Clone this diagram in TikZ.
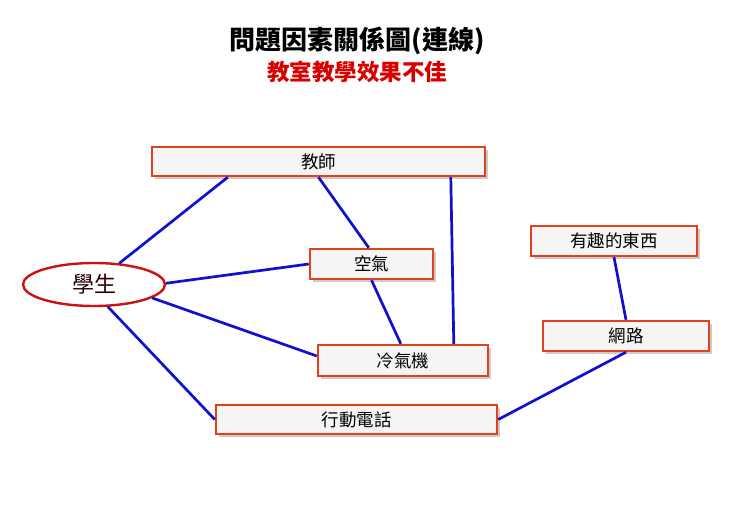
\documentclass[tikz,border=0pt]{standalone}
\usepackage{xcolor}
\usepackage{fontspec}
\usetikzlibrary{shapes.geometric,shadows}
\newfontfamily\cjk{Noto Sans CJK TC}
\definecolor{boxred}{HTML}{E2421B}
\definecolor{ovalred}{HTML}{CC1111}
\definecolor{linkblue}{HTML}{1010D0}
\definecolor{boxfill}{HTML}{F5F5F5}

\begin{document}
\begin{tikzpicture}[x=1pt,y=-1pt,
    factor/.style={draw=boxred,line width=2.4pt,fill=boxfill,
        drop shadow={shadow xshift=2.5pt,shadow yshift=-2.5pt,opacity=0.4},
        inner sep=0pt,font=\cjk\fontsize{17.5}{17.5}\selectfont},
    link/.style={draw=linkblue,line width=2.7pt}]
\useasboundingbox (0,0) rectangle (740,512);
    % Title
    \node (title) at (357,41) {\cjk\bfseries\fontsize{26}{26}\selectfont 問題因素關係圖(連線)};
    \node[text=red!85!black] (subtitle) at (357,72) {\cjk\bfseries\fontsize{22.5}{22.5}\selectfont 教室教學效果不佳};
    % Factors
    \node[ellipse,draw=ovalred,line width=2.4pt,fill=white,minimum width=142,minimum height=43,
        font=\cjk\fontsize{22}{22}\selectfont,text=black!85!red] (student) at (94,284.5) {學生};
    \node[factor,minimum width=333,minimum height=29] (teacher) at (318.5,161.5) {教師};
    \node[factor,minimum width=123,minimum height=30] (air) at (371.5,264) {空氣};
    \node[factor,minimum width=170,minimum height=31] (aircon) at (403,360.5) {冷氣機};
    \node[factor,minimum width=281,minimum height=29] (phone) at (356.5,419.5) {行動電話};
    \node[factor,minimum width=166,minimum height=30] (fun) at (614,241) {有趣的東西};
    \node[factor,minimum width=166,minimum height=30] (net) at (626,336) {網路};
    % Links
    \draw[link] (student.40) -- ([xshift=77pt]teacher.south west);
    \draw[link] (student.1) -- (air.west);
    \draw[link] (student.-13) -- ([yshift=4.5pt]aircon.west);
    \draw[link] (student.-58) -- (phone.west);
    \draw[link] (teacher.south) -- ([xshift=60pt]air.north west);
    \draw[link] ([xshift=300pt]teacher.south west) -- ([xshift=137pt]aircon.north west);
    \draw[link] (air.south) -- ([xshift=84pt]aircon.north west);
    \draw[link] (fun.south) -- (net.north);
    \draw[link] (net.south) -- (phone.east);
\end{tikzpicture}
\end{document}
